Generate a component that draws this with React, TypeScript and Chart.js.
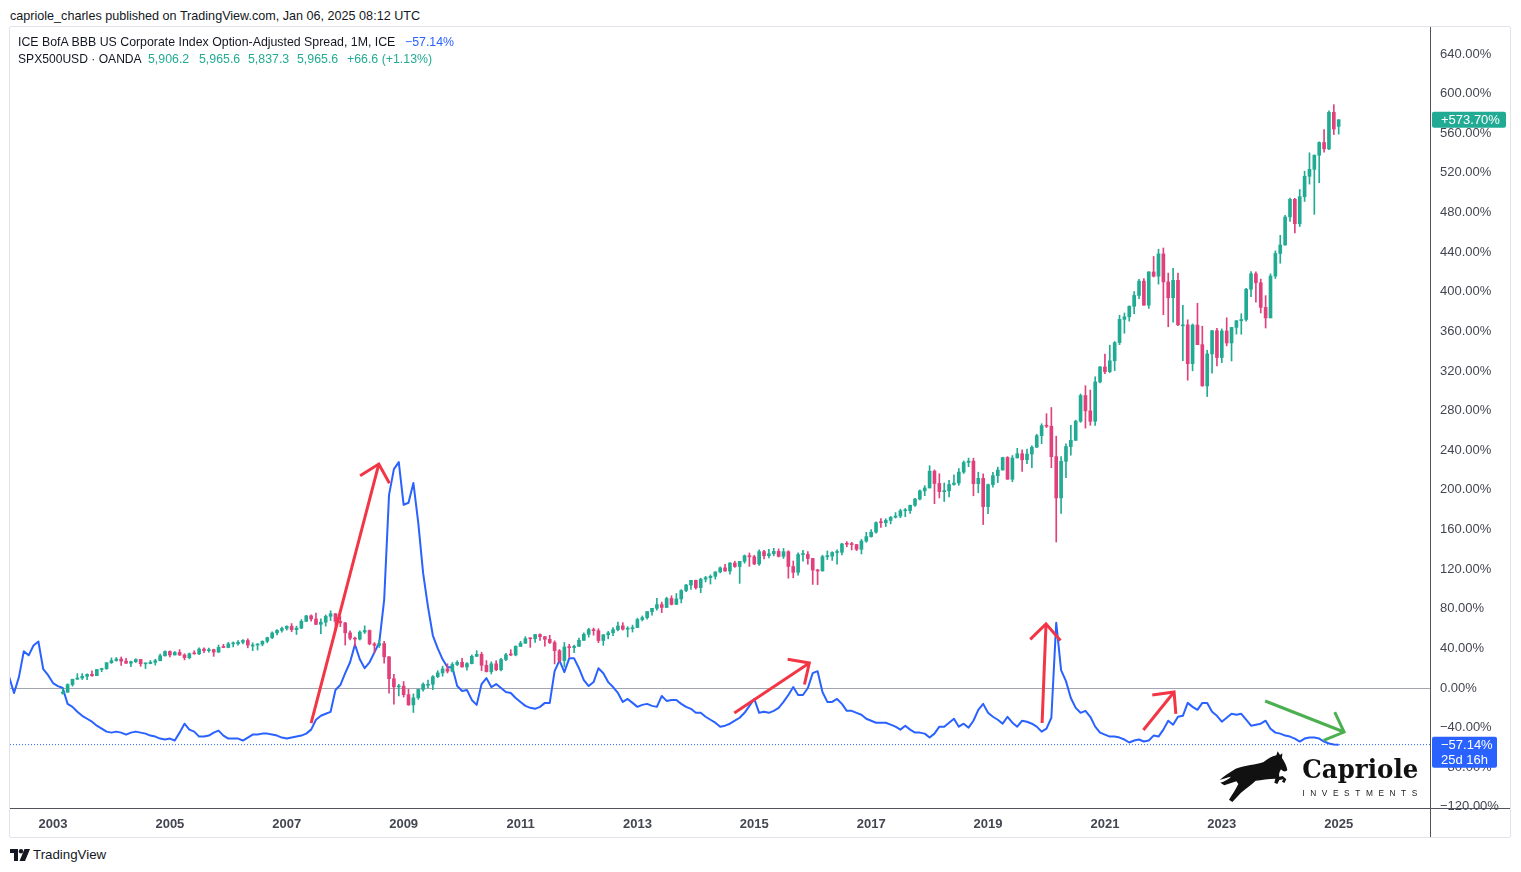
import React, { useEffect, useRef } from 'react';
import { Chart, registerables } from 'chart.js';

Chart.register(...registerables);

// ---------------- data ----------------
// x positions are months counted from Jan 2003 (= 0)
const YEAR_LABELS = ['2003', '2005', '2007', '2009', '2011', '2013', '2015', '2017', '2019', '2021', '2023', '2025'];
const YEAR_TICK_MONTHS = [0, 24, 48, 72, 96, 120, 144, 168, 192, 216, 240, 264];
const Y_TICKS = [-120, -80, -40, 0, 40, 80, 120, 160, 200, 240, 280, 320, 360, 400, 440, 480, 520, 560, 600, 640];

// ICE BofA BBB OAS, % change (monthly, Apr 2002 .. Jan 2025)
const SPREAD_FIRST_MONTH = -9;
const spreadPct = [
  11, -5, 11, 37, 33, 43, 47, 19, 13, // 2002 Apr-Dec
  5, 2, 0, -16, -19, -24, -28, -31, -34, -38, -41, -44, // 2003
  -45, -44, -45, -47, -45, -44, -45, -46, -48, -49, -51, -52, // 2004
  -51, -53, -45, -36, -42, -44, -49, -49, -48, -45, -43, -48, // 2005
  -51, -51, -51, -53, -50, -47, -47, -46, -46, -47, -48, -50, // 2006
  -51, -50, -49, -48, -46, -42, -32, -28, -26, -24, -2, 3, // 2007
  15, 26, 44, 29, 20, 26, 36, 46, 89, 195, 221, 228, // 2008
  185, 187, 207, 167, 116, 82, 53, 40, 29, 21, 21, 2, // 2009
  -3, -2, -12, -17, 4, 10, 1, 4, 0, -4, -5, -10, // 2010
  -14, -18, -20, -21, -19, -15, -15, 17, 28, 16, 30, 30, // 2011
  20, 8, 2, 6, 20, 15, 6, 1, -5, -14, -11, -15, // 2012
  -19, -17, -16, -18, -19, -8, -13, -12, -12, -16, -19, -21, // 2013
  -25, -25, -29, -32, -35, -39, -38, -36, -33, -30, -25, -18, // 2014
  -11, -25, -24, -25, -23, -20, -14, -7, 1, -7, -7, 0, // 2015
  15, 17, -4, -14, -14, -11, -16, -23, -23, -25, -27, -31, // 2016
  -33, -35, -35, -35, -37, -39, -42, -38, -42, -45, -45, -46, // 2017
  -50, -46, -39, -39, -35, -31, -39, -36, -40, -33, -22, -16, // 2018
  -25, -29, -32, -36, -29, -35, -39, -33, -34, -36, -39, -44, // 2019
  -41, -30, 66, 18, 7, -10, -20, -25, -23, -29, -39, -45, // 2020
  -47, -49, -49, -50, -52, -55, -53, -52, -54, -53, -48, -49, // 2021
  -42, -33, -37, -29, -28, -15, -19, -22, -15, -15, -24, -28, // 2022
  -34, -30, -26, -27, -26, -32, -38, -37, -36, -33, -41, -45, // 2023
  -46, -48, -49, -51, -54, -51, -50, -50, -51, -54, -56, -57, // 2024
  -57.14, // 2025 Jan
];
const SPREAD_LAST = -57.14;

// SPX500USD monthly OHLC (Mar 2003 .. Jan 2025), price
const SPX_FIRST_MONTH = 2;
const SPX_BASE = 885.5; // price at 0.00%
const SPX_LAST_PCT = 573.7;
const spxOpen = [
  841, 848, 916, 964, 975, 990, 1008, 996, 1051, 1058,
  1112, 1131, 1145, 1126, 1107, 1121, 1141, 1102, 1104, 1115, 1130, 1174,
  1212, 1181, 1204, 1181, 1157, 1192, 1191, 1234, 1220, 1229, 1207, 1249,
  1248, 1280, 1281, 1295, 1311, 1270, 1270, 1277, 1304, 1336, 1378, 1401,
  1418, 1438, 1407, 1421, 1482, 1531, 1503, 1455, 1474, 1527, 1549, 1481,
  1468, 1379, 1331, 1323, 1386, 1400, 1280, 1267, 1283, 1165, 969, 896,
  903, 826, 735, 798, 873, 919, 919, 987, 1021, 1057, 1036, 1096,
  1115, 1074, 1104, 1169, 1187, 1089, 1031, 1102, 1049, 1141, 1183, 1181,
  1258, 1286, 1327, 1326, 1364, 1345, 1321, 1292, 1219, 1131, 1253, 1247,
  1258, 1312, 1366, 1408, 1398, 1310, 1362, 1379, 1407, 1441, 1412, 1416,
  1426, 1498, 1515, 1569, 1598, 1631, 1606, 1686, 1633, 1682, 1757, 1806,
  1848, 1783, 1859, 1872, 1884, 1924, 1960, 1931, 2003, 1972, 2018, 2068,
  2059, 1995, 2105, 2068, 2086, 2107, 2063, 2104, 1972, 1920, 2079, 2080,
  2044, 1940, 1932, 2060, 2065, 2097, 2099, 2174, 2171, 2168, 2126, 2199,
  2239, 2279, 2364, 2363, 2384, 2412, 2423, 2470, 2472, 2519, 2575, 2648,
  2674, 2824, 2714, 2641, 2648, 2705, 2718, 2816, 2902, 2914, 2712, 2760,
  2507, 2704, 2784, 2834, 2946, 2752, 2942, 2980, 2926, 2977, 3038, 3141,
  3231, 3226, 2954, 2585, 2912, 3044, 3100, 3271, 3500, 3363, 3270, 3622,
  3756, 3714, 3811, 3973, 4181, 4204, 4298, 4395, 4523, 4308, 4605, 4567,
  4766, 4516, 4374, 4530, 4132, 4132, 3785, 4130, 3955, 3586, 3872, 4080,
  3840, 4077, 3970, 4109, 4169, 4180, 4450, 4589, 4508, 4288, 4194, 4568,
  4770, 4846, 5096, 5254, 5036, 5278, 5460, 5522, 5648, 5762, 5705, 6032,
  5906.2,
];
const spxHigh = [
  880, 924, 965, 1015, 1015, 1012, 1040, 1053, 1063, 1112,
  1155, 1159, 1163, 1151, 1127, 1147, 1141, 1109, 1132, 1143, 1188, 1217,
  1217, 1212, 1229, 1192, 1199, 1219, 1246, 1246, 1243, 1233, 1270, 1276,
  1294, 1298, 1310, 1318, 1326, 1290, 1283, 1307, 1340, 1389, 1407, 1431,
  1441, 1462, 1439, 1498, 1535, 1541, 1556, 1504, 1539, 1576, 1552, 1524,
  1472, 1396, 1341, 1397, 1441, 1405, 1292, 1314, 1304, 1167, 1007, 919,
  944, 875, 833, 876, 931, 957, 997, 1040, 1081, 1102, 1113, 1130,
  1151, 1113, 1181, 1220, 1206, 1131, 1120, 1130, 1150, 1196, 1228, 1263,
  1303, 1345, 1333, 1365, 1371, 1346, 1357, 1308, 1230, 1293, 1277, 1270,
  1333, 1378, 1420, 1422, 1416, 1363, 1392, 1426, 1475, 1470, 1434, 1448,
  1510, 1530, 1570, 1598, 1687, 1654, 1698, 1710, 1730, 1765, 1813, 1849,
  1850, 1867, 1884, 1897, 1924, 1968, 1991, 2006, 2019, 2018, 2075, 2093,
  2072, 2120, 2117, 2126, 2135, 2129, 2133, 2113, 2021, 2094, 2117, 2105,
  2044, 1947, 2073, 2111, 2104, 2121, 2178, 2194, 2188, 2169, 2214, 2278,
  2301, 2371, 2401, 2399, 2419, 2454, 2484, 2491, 2520, 2582, 2657, 2695,
  2873, 2836, 2801, 2718, 2742, 2791, 2848, 2916, 2941, 2940, 2815, 2800,
  2708, 2813, 2860, 2949, 2954, 2964, 3028, 3014, 3022, 3050, 3154, 3248,
  3338, 3393, 3137, 2954, 3068, 3233, 3280, 3514, 3588, 3549, 3668, 3760,
  3870, 3950, 3983, 4218, 4238, 4302, 4429, 4538, 4546, 4608, 4743, 4808,
  4819, 4595, 4637, 4594, 4307, 4177, 4140, 4325, 4120, 3905, 4080, 4101,
  4095, 4195, 4110, 4170, 4231, 4458, 4608, 4607, 4541, 4393, 4588, 4793,
  4932, 5111, 5265, 5264, 5342, 5505, 5670, 5652, 5768, 5878, 6044, 6100,
  5965.6,
];
const spxLow = [
  830, 847, 902, 963, 962, 960, 990, 995, 1031, 1053,
  1105, 1125, 1088, 1106, 1077, 1113, 1079, 1060, 1102, 1091, 1128, 1171,
  1163, 1180, 1176, 1137, 1146, 1188, 1183, 1201, 1205, 1169, 1202, 1246,
  1245, 1253, 1268, 1280, 1245, 1220, 1225, 1263, 1290, 1327, 1360, 1385,
  1403, 1389, 1364, 1416, 1480, 1484, 1452, 1371, 1439, 1489, 1406, 1435,
  1270, 1316, 1257, 1315, 1373, 1272, 1200, 1248, 1107, 840, 741, 815,
  805, 731, 667, 784, 858, 888, 870, 978, 991, 1020, 1029, 1085,
  1071, 1045, 1101, 1166, 1040, 1029, 1011, 1040, 1039, 1131, 1174, 1173,
  1257, 1284, 1249, 1294, 1311, 1259, 1283, 1101, 1114, 1075, 1159, 1202,
  1258, 1311, 1341, 1358, 1291, 1267, 1325, 1354, 1396, 1403, 1343, 1386,
  1426, 1485, 1501, 1536, 1581, 1560, 1605, 1628, 1633, 1646, 1746, 1768,
  1770, 1737, 1834, 1815, 1859, 1915, 1931, 1904, 1964, 1821, 2001, 1973,
  1988, 1981, 2040, 2048, 2068, 2057, 2044, 1867, 1872, 1894, 2020, 1993,
  1812, 1810, 1931, 2034, 2026, 1992, 2075, 2148, 2120, 2114, 2084, 2188,
  2234, 2269, 2322, 2329, 2353, 2405, 2408, 2417, 2446, 2510, 2566, 2605,
  2674, 2533, 2585, 2553, 2594, 2699, 2698, 2803, 2864, 2604, 2631, 2347,
  2444, 2681, 2722, 2834, 2751, 2729, 2942, 2822, 2891, 2855, 3036, 3070,
  3214, 2855, 2191, 2447, 2767, 2966, 3098, 3260, 3209, 3234, 3233, 3612,
  3695, 3705, 3723, 3955, 4057, 4165, 4233, 4367, 4306, 4279, 4560, 4496,
  4223, 4115, 4157, 4125, 3811, 3637, 3721, 3955, 3584, 3491, 3699, 3764,
  3794, 3944, 3809, 4049, 4048, 4166, 4385, 4335, 4238, 4104, 4194, 4546,
  4683, 4845, 5057, 4954, 5011, 5235, 5390, 5120, 5403, 5675, 5697, 5833,
  5837.3,
];
const spxClose = [
  848, 916, 964, 975, 990, 1008, 996, 1051, 1058, 1112,
  1131, 1145, 1126, 1107, 1121, 1141, 1102, 1104, 1115, 1130, 1174, 1212,
  1181, 1204, 1181, 1157, 1192, 1191, 1234, 1220, 1229, 1207, 1249, 1248,
  1280, 1281, 1295, 1311, 1270, 1270, 1277, 1304, 1336, 1378, 1401, 1418,
  1438, 1407, 1421, 1482, 1531, 1503, 1455, 1474, 1527, 1549, 1481, 1468,
  1379, 1331, 1323, 1386, 1400, 1280, 1267, 1283, 1165, 969, 896, 903,
  826, 735, 798, 873, 919, 919, 987, 1021, 1057, 1036, 1096, 1115,
  1074, 1104, 1169, 1187, 1089, 1031, 1102, 1049, 1141, 1183, 1181, 1258,
  1286, 1327, 1326, 1364, 1345, 1321, 1292, 1219, 1131, 1253, 1247, 1258,
  1312, 1366, 1408, 1398, 1310, 1362, 1379, 1407, 1441, 1412, 1416, 1426,
  1498, 1515, 1569, 1598, 1631, 1606, 1686, 1633, 1682, 1757, 1806, 1848,
  1783, 1859, 1872, 1884, 1924, 1960, 1931, 2003, 1972, 2018, 2068, 2059,
  1995, 2105, 2068, 2086, 2107, 2063, 2104, 1972, 1920, 2079, 2080, 2044,
  1940, 1932, 2060, 2065, 2097, 2099, 2174, 2171, 2168, 2126, 2199, 2239,
  2279, 2364, 2363, 2384, 2412, 2423, 2470, 2472, 2519, 2575, 2648, 2674,
  2824, 2714, 2641, 2648, 2705, 2718, 2816, 2902, 2914, 2712, 2760, 2507,
  2704, 2784, 2834, 2946, 2752, 2942, 2980, 2926, 2977, 3038, 3141, 3231,
  3226, 2954, 2585, 2912, 3044, 3100, 3271, 3500, 3363, 3270, 3622, 3756,
  3714, 3811, 3973, 4181, 4204, 4298, 4395, 4523, 4308, 4605, 4567, 4766,
  4516, 4374, 4530, 4132, 4132, 3785, 4130, 3955, 3586, 3872, 4080, 3840,
  4077, 3970, 4109, 4169, 4180, 4450, 4589, 4508, 4288, 4194, 4568, 4770,
  4846, 5096, 5254, 5036, 5278, 5460, 5522, 5648, 5762, 5705, 6032, 5882,
  5965.6,
];

// hand-drawn arrows (month index, percent)
const ARROWS = [
  { from: [53.0, -35.3], to: [66.9, 226.1], color: '#f23645' },
  { from: [139.9, -25.2], to: [155.3, 25.2], color: '#f23645' },
  { from: [203.1, -35.3], to: [203.9, 64.6], color: '#f23645' },
  { from: [223.9, -42.4], to: [230.2, -4.0], color: '#f23645' },
  { from: [248.9, -13.1], to: [265.1, -44.4], color: '#4caf50' },
];

// ---------------- chart ----------------
const X_MIN = -8.83;
const X_MAX = 282.75;
const Y_MIN = -121.1;
const Y_MAX = 667.3;
const UP = '#22ab94';
const DOWN = '#e0407b';
const BLUE = '#2962ff';
const FONT = "'Liberation Sans', Arial, sans-serif";

const fmtPct = (v: number) => (v < 0 ? '\u2212' : '') + Math.abs(v).toFixed(2) + '%';
const toPct = (p: number) => (p / SPX_BASE - 1) * 100;

function drawArrow(ctx: CanvasRenderingContext2D, x1: number, y1: number, x2: number, y2: number, color: string) {
  ctx.strokeStyle = color;
  ctx.lineWidth = 3;
  ctx.lineCap = 'butt';
  ctx.lineJoin = 'miter';
  ctx.beginPath();
  ctx.moveTo(x1, y1);
  ctx.lineTo(x2, y2);
  ctx.stroke();
  const ang = Math.atan2(y1 - y2, x1 - x2);
  const L = 22;
  const a = 0.76;
  ctx.beginPath();
  ctx.moveTo(x2 + L * Math.cos(ang + a), y2 + L * Math.sin(ang + a));
  ctx.lineTo(x2, y2);
  ctx.lineTo(x2 + L * Math.cos(ang - a), y2 + L * Math.sin(ang - a));
  ctx.stroke();
}

const overlayPlugin = {
  id: 'overlay',
  afterDatasetsDraw(chart: any) {
    const { ctx, chartArea, scales } = chart;
    const xs = scales.x;
    const ys = scales.y;
    ctx.save();
    ctx.beginPath();
    ctx.rect(chartArea.left, chartArea.top, chartArea.right - chartArea.left, chartArea.bottom - chartArea.top);
    ctx.clip();
    ARROWS.forEach((ar) => {
      drawArrow(
        ctx,
        xs.getPixelForValue(ar.from[0]),
        ys.getPixelForValue(ar.from[1]),
        xs.getPixelForValue(ar.to[0]),
        ys.getPixelForValue(ar.to[1]),
        ar.color,
      );
    });
    ctx.restore();
  },
  afterDraw(chart: any) {
    const { ctx, chartArea, scales, width, height } = chart;
    const ys = scales.y;
    ctx.save();
    // axis borders
    ctx.strokeStyle = '#50535e';
    ctx.lineWidth = 1;
    ctx.beginPath();
    ctx.moveTo(0, Math.round(chartArea.bottom) + 0.5);
    ctx.lineTo(width, Math.round(chartArea.bottom) + 0.5);
    ctx.moveTo(Math.round(chartArea.right) + 0.5, 0);
    ctx.lineTo(Math.round(chartArea.right) + 0.5, height);
    ctx.stroke();

    const bx = chartArea.right + 2;
    const tx = chartArea.right + 11;
    ctx.font = `13px ${FONT}`;
    ctx.textBaseline = 'middle';
    ctx.textAlign = 'left';
    // SPX last value badge
    const yS = ys.getPixelForValue(SPX_LAST_PCT);
    ctx.fillStyle = UP;
    ctx.beginPath();
    ctx.roundRect(bx, yS - 8, 74, 16, 2);
    ctx.fill();
    ctx.fillStyle = '#ffffff';
    ctx.fillText('+' + SPX_LAST_PCT.toFixed(2) + '%', tx, yS + 0.5);
    // spread last value badge
    const yB = ys.getPixelForValue(SPREAD_LAST);
    ctx.fillStyle = BLUE;
    ctx.beginPath();
    ctx.roundRect(bx, yB - 8, 65, 31, 2);
    ctx.fill();
    ctx.fillStyle = '#ffffff';
    ctx.fillText(fmtPct(SPREAD_LAST), tx, yB + 0.5);
    ctx.fillText('25d 16h', tx, yB + 15.5);
    ctx.restore();
  },
};

function ChartCanvas() {
  const ref = useRef<HTMLCanvasElement>(null);
  useEffect(() => {
    Chart.defaults.font.family = FONT;
    const spreadPoints = spreadPct.map((v, k) => ({ x: SPREAD_FIRST_MONTH + k, y: v }));
    const bodies = spxClose.map((c, k) => ({ x: SPX_FIRST_MONTH + k, y: [toPct(spxOpen[k]), toPct(c)] }));
    const wicks = spxClose.map((_c, k) => ({ x: SPX_FIRST_MONTH + k, y: [toPct(spxLow[k]), toPct(spxHigh[k])] }));
    const colors = spxClose.map((c, k) => (c >= spxOpen[k] ? UP : DOWN));

    const chart = new Chart(ref.current as HTMLCanvasElement, {
      type: 'bar',
      data: {
        datasets: [
          {
            type: 'line',
            label: 'last',
            data: [{ x: X_MIN, y: SPREAD_LAST }, { x: X_MAX, y: SPREAD_LAST }],
            borderColor: BLUE,
            borderWidth: 1,
            borderDash: [1, 2],
            pointRadius: 0,
            order: 5,
          } as any,
          {
            type: 'line',
            label: 'ICE BofA BBB OAS',
            data: spreadPoints,
            borderColor: BLUE,
            borderWidth: 2,
            pointRadius: 0,
            tension: 0,
            borderJoinStyle: 'round',
            order: 4,
          } as any,
          {
            type: 'bar',
            label: 'wicks',
            data: wicks,
            backgroundColor: colors,
            barThickness: 1,
            grouped: false,
            order: 2,
          } as any,
          {
            type: 'bar',
            label: 'SPX500USD',
            data: bodies,
            backgroundColor: colors,
            barThickness: 3,
            minBarLength: 1,
            grouped: false,
            order: 1,
          } as any,
        ],
      },
      options: {
        responsive: true,
        maintainAspectRatio: false,
        animation: false,
        events: [],
        layout: { padding: 0, autoPadding: false } as any,
        plugins: {
          legend: { display: false },
          tooltip: { enabled: false },
          title: { display: false },
        },
        scales: {
          x: {
            type: 'linear',
            min: X_MIN,
            max: X_MAX,
            offset: false,
            bounds: 'data',
            position: 'bottom',
            grid: { display: false, drawTicks: false },
            border: { display: false },
            afterBuildTicks: (s: any) => {
              s.ticks = YEAR_TICK_MONTHS.map((v) => ({ value: v }));
            },
            afterFit: (s: any) => {
              s.height = 29;
              s.paddingLeft = 0;
              s.paddingRight = 0;
            },
            ticks: {
              autoSkip: false,
              maxRotation: 0,
              padding: 9,
              color: '#434651',
              font: { size: 13, weight: 'bold' },
              callback: (v: any) => {
                const i = YEAR_TICK_MONTHS.indexOf(Number(v));
                return i >= 0 ? YEAR_LABELS[i] : '';
              },
            },
          } as any,
          y: {
            type: 'linear',
            position: 'right',
            min: Y_MIN,
            max: Y_MAX,
            bounds: 'data',
            grid: {
              drawTicks: false,
              lineWidth: 1,
              color: (c: any) => (c.tick && c.tick.value === 0 ? '#a3a6af' : 'rgba(0,0,0,0)'),
            },
            border: { display: false },
            afterBuildTicks: (s: any) => {
              s.ticks = Y_TICKS.map((v) => ({ value: v }));
            },
            afterFit: (s: any) => {
              s.width = 80;
              s.paddingTop = 0;
              s.paddingBottom = 0;
            },
            ticks: {
              autoSkip: false,
              padding: 10,
              color: '#434651',
              font: { size: 13 },
              callback: (v: any) => fmtPct(Number(v)),
            },
          } as any,
        },
      },
      plugins: [overlayPlugin],
    } as any);
    return () => chart.destroy();
  }, []);
  return <canvas ref={ref} />;
}

function HorseLogo() {
  return (
    <svg
      width={210}
      height={56}
      viewBox="0 0 630 168"
      style={{ position: 'absolute', left: 1215, top: 748 }}
    >
      <path
        fill="#111"
        d="M62 62 C92 52 122 50 146 42 C158 34 170 24 184 22 L188 10 L195 21 L202 16 L201 30 C209 42 215 54 217 66 C212 73 204 71 198 64 C193 72 191 78 193 86 L203 84 L214 94 L208 105 L201 101 L205 94 L193 96 L187 108 L178 104 L181 92 C160 92 140 96 122 98 C110 110 92 122 78 134 L52 162 L42 155 C52 140 62 124 70 108 L64 100 C52 104 40 108 28 112 L16 104 C28 100 40 94 48 86 C38 88 26 92 14 96 C26 84 42 74 62 62 Z"
      />
      <text
        x={262}
        y={91}
        fontFamily="'DejaVu Serif', serif"
        fontWeight="bold"
        fontSize={76}
        textLength={348}
        lengthAdjust="spacingAndGlyphs"
        fill="#111"
      >
        Capriole
      </text>
      <text
        x={262}
        y={143}
        fontFamily={FONT}
        fontSize={25}
        textLength={345}
        lengthAdjust="spacing"
        fill="#222"
      >
        INVESTMENTS
      </text>
    </svg>
  );
}

export default function App() {
  const txt: React.CSSProperties = { position: 'absolute', whiteSpace: 'pre', lineHeight: '16px' };
  return (
    <div
      style={{
        position: 'absolute',
        left: 0,
        top: 0,
        width: 1521,
        height: 872,
        background: '#ffffff',
        fontFamily: FONT,
        color: '#131722',
        overflow: 'hidden',
      }}
    >
      <div style={{ ...txt, left: 10, top: 8, fontSize: 12.6 }}>
        capriole_charles published on TradingView.com, Jan 06, 2025 08:12 UTC
      </div>
      <div
        style={{
          position: 'absolute',
          left: 9,
          top: 26,
          width: 1500,
          height: 810,
          border: '1px solid #e0e3eb',
          borderRadius: 2,
        }}
      />
      <div style={{ position: 'absolute', left: 10, top: 27, width: 1500, height: 810 }}>
        <ChartCanvas />
      </div>
      <div style={{ ...txt, left: 18, top: 34, fontSize: 12.35 }}>
        ICE BofA BBB US Corporate Index Option-Adjusted Spread, 1M, ICE
      </div>
      <div style={{ ...txt, left: 405, top: 34, fontSize: 12.35, color: BLUE }}>{fmtPct(SPREAD_LAST)}</div>
      <div style={{ ...txt, left: 18, top: 51, fontSize: 12.1 }}>SPX500USD · OANDA</div>
      <div style={{ ...txt, left: 148, top: 51, fontSize: 12.35, color: UP }}>5,906.2</div>
      <div style={{ ...txt, left: 199, top: 51, fontSize: 12.35, color: UP }}>5,965.6</div>
      <div style={{ ...txt, left: 248, top: 51, fontSize: 12.35, color: UP }}>5,837.3</div>
      <div style={{ ...txt, left: 297, top: 51, fontSize: 12.35, color: UP }}>5,965.6</div>
      <div style={{ ...txt, left: 347, top: 51, fontSize: 12.35, color: UP }}>+66.6 (+1.13%)</div>
      <HorseLogo />
      <svg width={20} height={12} viewBox="0 0 20 12" style={{ position: 'absolute', left: 10, top: 849 }}>
        <path fill="#131722" d="M0 0h8v12h-4v-8h-4z" />
        <circle cx={11} cy={2.2} r={2.2} fill="#131722" />
        <path fill="#131722" d="M14.5 0h5.5l-5 12h-5.5z" />
      </svg>
      <div style={{ ...txt, left: 33, top: 847, fontSize: 13.3, fontWeight: 500 }}>TradingView</div>
    </div>
  );
}
